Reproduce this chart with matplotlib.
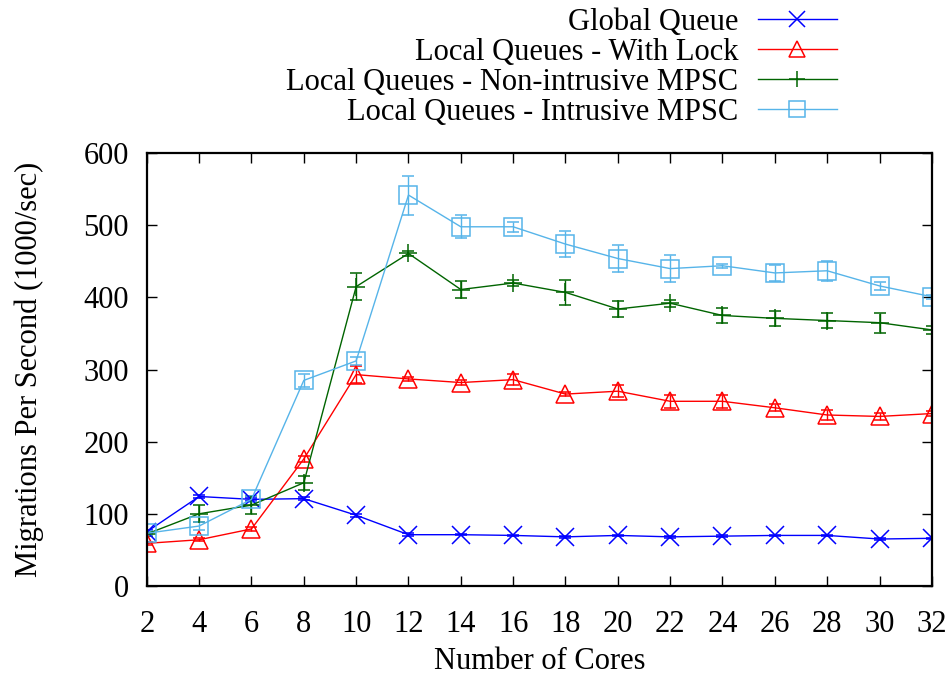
import matplotlib
matplotlib.use("Agg")
import matplotlib.pyplot as plt
from matplotlib.lines import Line2D

CORES = [2, 4, 6, 8, 10, 12, 14, 16, 18, 20, 22, 24, 26, 28, 30, 32]

GLOBAL_QUEUE = [75, 124, 120, 121, 98, 71, 71, 70, 68, 70, 68, 69, 70, 70, 65, 66]
GLOBAL_QUEUE_ERR = [2, 2, 2, 2, 2, 2, 1, 1, 1, 1, 1, 1, 1, 1, 1, 1]

WITH_LOCK = [59, 64, 79, 176, 293, 287, 282, 286, 266, 270, 256, 256, 247, 237, 235, 239]
WITH_LOCK_ERR = [2, 2, 3, 4, 12, 3, 3, 8, 3, 8, 9, 9, 5, 7, 5, 3]

NON_INTRUSIVE = [72, 100, 112, 143, 415, 461, 411, 420, 407, 384, 392, 375, 371, 368, 365, 355]
NON_INTRUSIVE_ERR = [3, 12, 12, 10, 19, 4, 12, 4, 17, 11, 5, 11, 10, 11, 14, 6]

INTRUSIVE = [73, 83, 120, 285, 312, 542, 498, 498, 474, 454, 440, 444, 434, 437, 416, 401]
INTRUSIVE_ERR = [3, 5, 4, 9, 6, 27, 16, 7, 18, 19, 19, 3, 11, 14, 5, 3]

SERIES = [
    ("Global Queue", GLOBAL_QUEUE, GLOBAL_QUEUE_ERR, {"color": "#0000ff", "marker": "x"}),
    ("Local Queues - With Lock", WITH_LOCK, WITH_LOCK_ERR, {"color": "#ff0000", "marker": "^"}),
    ("Local Queues - Non-intrusive MPSC", NON_INTRUSIVE, NON_INTRUSIVE_ERR,
     {"color": "#006400", "marker": "+"}),
    ("Local Queues - Intrusive MPSC", INTRUSIVE, INTRUSIVE_ERR, {"color": "#56b4e9", "marker": "s"}),
]

MARKER_STYLE = {"markersize": 13, "markerfacecolor": "none", "markeredgewidth": 1.1}


def main():
    plt.rcParams.update({
        "font.family": "Liberation Serif",
        "font.size": 22,
    })
    fig = plt.figure(figsize=(9.47, 6.75), dpi=100)
    ax = fig.add_axes([0.155, 0.132, 0.829, 0.641])

    handles = []
    for label, values, errs, style in SERIES:
        ax.errorbar(
            CORES,
            values,
            yerr=errs,
            color=style["color"],
            marker=style["marker"],
            linewidth=1.0,
            elinewidth=1.0,
            capsize=4,
            **MARKER_STYLE,
        )
        handles.append(
            Line2D([], [], color=style["color"], marker=style["marker"],
                   linewidth=1.0, markersize=11, markerfacecolor="none",
                   markeredgewidth=1.1)
        )

    ax.set_xlim(2, 32)
    ax.set_ylim(0, 600)
    ax.set_xticks(CORES)
    ax.set_yticks(range(0, 601, 100))
    ax.tick_params(direction="in", length=7, width=1, top=True, right=True)
    ax.tick_params(axis="x", pad=17)
    ax.tick_params(axis="y", pad=13)
    for spine in ax.spines.values():
        spine.set_linewidth(1.6)
    ax.set_xlabel("Number of Cores", labelpad=6)
    ax.set_ylabel("Migrations Per Second (1000/sec)", labelpad=28)

    fig.legend(
        handles,
        [s[0] for s in SERIES],
        loc="upper right",
        bbox_to_anchor=(837 / 947, 1 - 8 / 675),
        frameon=False,
        markerfirst=False,
        handlelength=2.6,
        labelspacing=0.03,
        borderpad=0.0,
        borderaxespad=0.0,
        handletextpad=0.62,
    )

    fig.savefig("out.png", dpi=100)
    plt.close(fig)


if __name__ == "__main__":
    main()
